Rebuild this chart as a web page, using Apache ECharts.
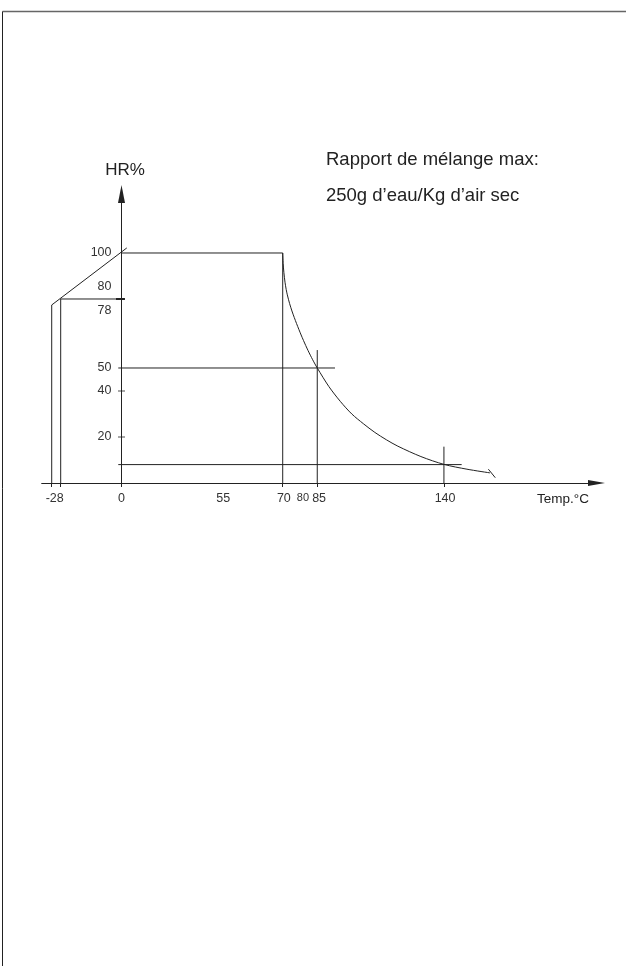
<!DOCTYPE html>
<html>
<head>
<meta charset="utf-8">
<script src="https://cdn.jsdelivr.net/npm/echarts@6/dist/echarts.min.js"></script>
<style>
html,body{margin:0;padding:0;background:#fff;}
#chart{width:626px;height:966px;}
</style>
</head>
<body>
<div id="chart"></div>
<script>
// ---- data (°C on x, HR% on y) ----
const xTickValues = [-30.3, -26.4, 0, 70, 85, 140];
const xLabelPos = [-29, 0, 44.2, 70.5, 78.8, 85.8, 140.5];
const xLabelText = ['-28', '0', '55', '70', '80', '85', '140'];
const yLabelPos = [100, 85.2, 74.8, 50, 40, 20];
const yLabelText = ['100', '80', '78', '50', '40', '20'];
const yCrossTicks = [20, 40];

const envelopeX = [-30.3, -30.3, 2.3];
const envelopeY = [0, 77.4, 102.2];
const plateauX = [0, 70];
const plateauY = [100, 100];
const v70X = [70, 70];
const v70Y = [100, 0];
const curveT = [70, 70.2, 70.5, 71, 71.5, 72, 73, 74, 75, 76, 77, 78, 79, 80, 81, 82, 83, 84, 85, 90, 95, 100, 105, 110, 115, 120, 130, 140, 150, 160];
const curveRH = [100, 95.4, 91.6, 87.3, 84.2, 81.8, 78.0, 74.8, 72.0, 69.35, 66.8, 64.35, 62.0, 59.75, 57.6, 55.55, 53.6, 51.75, 50, 42, 35.5, 30, 25.8, 22, 18.8, 16, 11.5, 8.1, 6, 4.4];
const stepX = [-26.4, -26.4, 0];
const stepY = [0, 80, 80];
const tick80X = [-2.4, 1.5];
const tick80Y = [80, 80];
const h50X = [-1.4, 92.7];
const h50Y = [50, 50];
const v85X = [85, 85];
const v85Y = [0, 57.8];
const h8X = [-1.4, 147.7];
const h8Y = [8, 8];
const v140X = [140, 140];
const v140Y = [0, 15.8];
const hookX = [159.3, 162.3];
const hookY = [6.0, 2.3];

const INK = '#222';
const FONT = '"Liberation Sans", Arial, sans-serif';

function pairs(xs, ys) { return xs.map((x, i) => [x, ys[i]]); }
function lineSeries(xs, ys, w, smooth) {
  return {
    type: 'line', data: pairs(xs, ys), showSymbol: false, symbol: 'none',
    clip: false, smooth: smooth || false, animation: false,
    lineStyle: { color: INK, width: w || 1 }, silent: true
  };
}
function lookup(pos, text, small) {
  return function (v) {
    for (let i = 0; i < pos.length; i++) if (Math.abs(pos[i] - v) < 1e-6) return (small && text[i] === small) ? '{s|' + text[i] + '}' : text[i];
    return '';
  };
}

const chart = echarts.init(document.getElementById('chart'), null, { renderer: 'canvas' });
chart.setOption({
  animation: false,
  backgroundColor: '#fff',
  grid: { left: 41.7, top: 194, width: 554.8, height: 289, containLabel: false },
  xAxis: {
    type: 'value', min: -34.65, max: 206.25,
    splitLine: { show: false },
    axisLine: { show: true, onZero: true, symbol: ['none', 'triangle'], symbolSize: [6, 17], lineStyle: { color: INK, width: 1 } },
    axisTick: { show: true, customValues: xTickValues, length: 4, lineStyle: { color: INK } },
    axisLabel: {
      customValues: xLabelPos, formatter: lookup(xLabelPos, xLabelText, '80'),
      margin: 9, color: '#333', fontSize: 12.5, fontFamily: FONT,
      rich: { s: { fontSize: 11, fontFamily: FONT, color: '#333' } }
    }
  },
  yAxis: {
    type: 'value', min: 0, max: 125.65,
    splitLine: { show: false },
    axisLine: { show: true, onZero: true, symbol: ['none', 'triangle'], symbolSize: [7, 18], lineStyle: { color: INK, width: 1 } },
    axisTick: { show: false },
    axisLabel: {
      customValues: yLabelPos, formatter: lookup(yLabelPos, yLabelText),
      margin: -69.8, color: '#333', fontSize: 12.5, fontFamily: FONT
    }
  },
  series: [
    lineSeries(envelopeX, envelopeY),
    lineSeries(plateauX, plateauY),
    lineSeries(v70X, v70Y),
    lineSeries(curveT, curveRH, 1, 0.3),
    lineSeries(stepX, stepY),
    lineSeries(tick80X, tick80Y, 2),
    lineSeries(h50X, h50Y),
    lineSeries(v85X, v85Y),
    lineSeries(h8X, h8Y),
    lineSeries(v140X, v140Y),
    lineSeries(hookX, hookY),
    {
      type: 'scatter', data: yCrossTicks.map(v => [0, v]), symbol: 'rect', symbolSize: [7, 1],
      itemStyle: { color: INK }, silent: true, animation: false
    }
  ],
  graphic: [
    { type: 'line', shape: { x1: 2.5, y1: 11.5, x2: 626, y2: 11.5 }, style: { stroke: '#666', lineWidth: 1.5 } },
    { type: 'line', shape: { x1: 2.5, y1: 11.5, x2: 2.5, y2: 966 }, style: { stroke: '#222', lineWidth: 1 } },
    { type: 'text', x: 125, y: 170, style: { text: 'HR%', fontSize: 17, fontFamily: FONT, fill: '#222', align: 'center', verticalAlign: 'middle' } },
    { type: 'text', x: 563, y: 499, style: { text: 'Temp.°C', fontSize: 13.5, fontFamily: FONT, fill: '#222', align: 'center', verticalAlign: 'middle' } },
    { type: 'text', x: 326, y: 160, style: { text: 'Rapport de mélange max:', fontSize: 18.5, fontFamily: FONT, fill: '#222', align: 'left', verticalAlign: 'middle' } },
    { type: 'text', x: 326, y: 196, style: { text: '250g d\u2019eau/Kg d\u2019air sec', fontSize: 18.5, fontFamily: FONT, fill: '#222', align: 'left', verticalAlign: 'middle' } }
  ]
});
</script>
</body>
</html>
